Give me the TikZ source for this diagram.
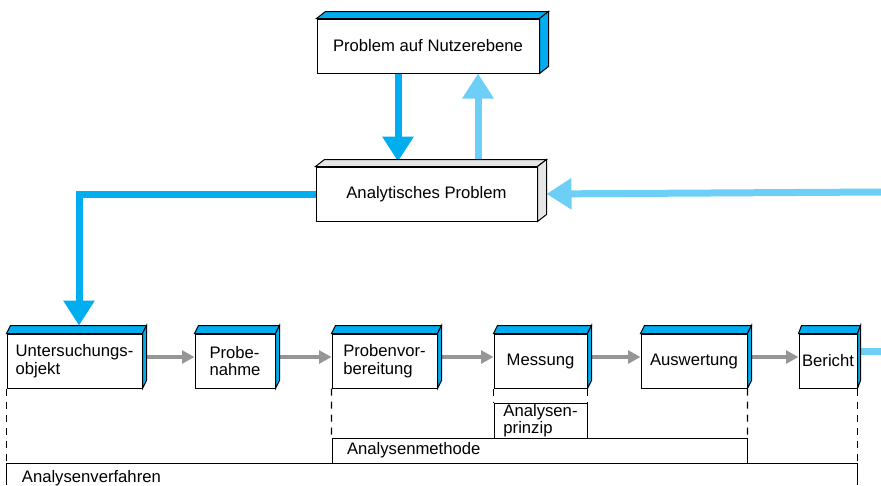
\documentclass[tikz,border=0pt]{standalone}
\usepackage{fontspec}
\setmainfont{Liberation Sans}
\usepackage{xcolor}
\usepackage{tikz}
\usetikzlibrary{arrows.meta, backgrounds}

\definecolor{cyanDark}{RGB}{0,174,239}
\definecolor{cyanLight}{RGB}{109,207,246}
\definecolor{sideGray}{RGB}{230,230,230}
\definecolor{flowGray}{RGB}{150,150,150}

\tikzset{
    stepbox/.style={draw, fill=white, line width=0.6pt, minimum height=32.4pt, inner sep=0pt, align=left},
    mainflow/.style={line width=4.2pt, -{Triangle[width=18pt, length=15pt]}},
    subflow/.style={line width=1.9pt, flowGray, -{Triangle[width=7.6pt, length=7.4pt]}},
    guide/.style={line width=0.75pt, dash pattern=on 4.2pt off 3.6pt},
    frame/.style={line width=0.6pt}
}

\begin{document}
\begin{tikzpicture}[x=0.6pt, y=-0.6pt, font=\fontsize{10}{10.5}\selectfont]
    \useasboundingbox (0,0) rectangle (881,485);

    \node[stepbox, minimum width=133.2pt] (nutzer) at (428,46) {Problem auf Nutzerebene};
    \node[stepbox, minimum width=132.6pt] (analyt) at (426.5,194) {Analytisches Problem};

    \node[stepbox, minimum width=81pt]   (objekt)  at (74.5,361)  {Untersuchungs-\\objekt};
    \node[stepbox, minimum width=48pt]   (probe)   at (235,361)   {Probe-\\nahme};
    \node[stepbox, minimum width=63pt]   (vorb)    at (384.5,361) {Probenvor-\\bereitung};
    \node[stepbox, minimum width=55.8pt] (mess)    at (540.5,361) {Messung};
    \node[stepbox, minimum width=63.6pt] (ausw)    at (694,361)   {Auswertung};
    \node[stepbox, minimum width=34.8pt] (bericht) at (828,361)   {Bericht};

    \coordinate (eingang) at (881,192);
    \coordinate (ausgang) at (881,351);

    % Seitenflaechen
    \foreach \n/\c/\dx/\dy in {nutzer/cyanDark/9/7, analyt/sideGray/9/7,
            objekt/cyanDark/4/8, probe/cyanDark/4/8, vorb/cyanDark/4/8,
            mess/cyanDark/4/8, ausw/cyanDark/4/8, bericht/cyanDark/3/8} {
        \filldraw[fill=\c, line width=0.6pt] (\n.north west) -- ++(\dx,-\dy)
            -- ([shift={(\dx,-\dy)}]\n.north east) -- (\n.north east) -- cycle;
        \filldraw[fill=\c, line width=0.6pt] (\n.north east) -- ++(\dx,-\dy)
            -- ([shift={(\dx,-\dy)}]\n.south east) -- (\n.south east) -- cycle;
    }

    \begin{scope}[on background layer]
        \draw[mainflow, cyanDark, shorten >=3pt] (nutzer.south -| 398,0) -- (analyt.north -| 398,0);
        \draw[mainflow, cyanLight] (analyt.north -| 478,0) -- (nutzer.south -| 478,0);
        \draw[mainflow, cyanDark, shorten >=4.8pt] (analyt.west) -| (objekt.north -| 79,0);
        \draw[mainflow, cyanLight, shorten >=5.4pt] (eingang) -- (analyt.east);
        \draw[line width=4.2pt, cyanLight] (bericht.east |- ausgang) -- (ausgang);
        \foreach \a/\b in {objekt/probe, probe/vorb, vorb/mess, mess/ausw, ausw/bericht}
            \draw[subflow] (\a.east |- 0,357) -- (\b.west |- 0,357);
    \end{scope}

    \node[draw, frame, minimum width=55.8pt, minimum height=21pt, inner sep=0pt, align=left] (prinzip) at (540.5,420.5) {Analysen-\\prinzip};
    \node[draw, frame, minimum height=15pt, inner xsep=9pt, inner ysep=0pt, text width=231pt, align=left] (methode) at (539.5,450.5) {Analysenmethode};
    \node[anchor=base west] (verfahren) at (16,482) {Analysenverfahren};

    \draw[guide] (objekt.south west) -- (objekt.south west |- 0,463);
    \draw[guide] (vorb.south west) -- (methode.north west);
    \draw[guide] (mess.south west) -- (prinzip.north west);
    \draw[guide] (mess.south east) -- (prinzip.north east);
    \draw[guide] (ausw.south east) -- (methode.north east);
    \draw[guide] (bericht.south east) -- (bericht.south east |- 0,463);
    \draw[frame] (objekt.south west |- 0,485) -- (objekt.south west |- 0,463)
        -- (bericht.south east |- 0,463) -- (bericht.south east |- 0,485);

\end{tikzpicture}
\end{document}
